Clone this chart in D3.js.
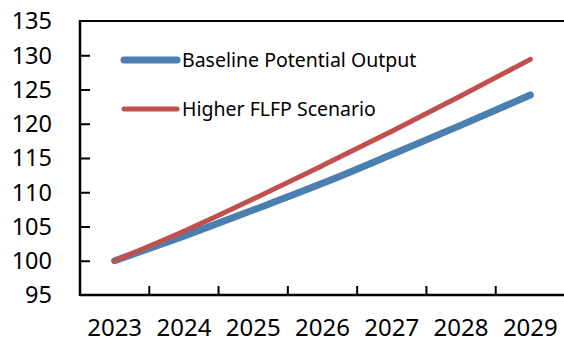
<!DOCTYPE html>
<html><head><meta charset="utf-8">
<script src="https://cdn.jsdelivr.net/npm/d3@7"></script>
<style>body{margin:0;background:#fff}svg{display:block}</style>
</head><body><svg id="c" width="564" height="344"></svg>
<script>
const years = ["2023","2024","2025","2026","2027","2028","2029"];
const baseline = [100, 103.6, 107.4, 111.3, 115.5, 119.8, 124.2];
const higher = [100, 104.3, 109.0, 113.9, 118.9, 124.1, 129.4];
const yTicks = [95,100,105,110,115,120,125,130,135];
const seriesNames = ["Baseline Potential Output", "Higher FLFP Scenario"];
const colors = ["#4a7fb0", "#c0504d"];
const widths = [7, 5];

(function () {
const svg = d3.select("#c");
const font = "'Noto Sans', 'Open Sans', sans-serif";
const mL = 80, mR = 565, mT = 21, mB = 295;
const x = d3.scaleBand().domain(years).range([mL, mR]);
const y = d3.scaleLinear().domain([95, 135]).range([mB, mT]);

svg.append("line").attr("x1", mL).attr("x2", 564).attr("y1", mT).attr("y2", mT)
  .attr("stroke", "#000").attr("stroke-width", 2);

const yAxis = svg.append("g").attr("transform", `translate(${mL},0)`)
  .call(d3.axisRight(y).tickValues(yTicks.slice(1, -1)).tickSize(10).tickFormat(""));
yAxis.select(".domain").remove();
yAxis.selectAll("line").attr("stroke", "#000").attr("stroke-width", 2);
svg.append("line").attr("x1", mL).attr("x2", mL).attr("y1", mT - 1).attr("y2", mB + 1)
  .attr("stroke", "#000").attr("stroke-width", 2.5);

svg.append("g").selectAll("text").data(yTicks).join("text")
  .attr("x", 52).attr("y", d => y(d)).attr("dy", "0.36em")
  .attr("text-anchor", "end").attr("font-family", font).attr("font-size", 23.5)
  .attr("fill", "#000").text(d => d);

svg.append("line").attr("x1", mL).attr("x2", 564).attr("y1", mB).attr("y2", mB)
  .attr("stroke", "#000").attr("stroke-width", 2.5);
svg.append("g").selectAll("line").data(years.slice(1)).join("line")
  .attr("x1", d => x(d)).attr("x2", d => x(d)).attr("y1", mB).attr("y2", mB - 9)
  .attr("stroke", "#000").attr("stroke-width", 2);
svg.append("g").selectAll("text").data(years).join("text")
  .attr("x", d => x(d) + x.bandwidth() / 2).attr("y", 327).attr("dy", "0.36em")
  .attr("text-anchor", "middle").attr("font-family", font).attr("font-size", 24)
  .attr("fill", "#000").text(d => d);

const line = d3.line().x((d, i) => x(years[i]) + x.bandwidth() / 2).y(d => y(d)).curve(d3.curveMonotoneX);
[baseline, higher].forEach((s, k) => {
  svg.append("path").datum(s).attr("d", line).attr("fill", "none")
    .attr("stroke", colors[k]).attr("stroke-width", widths[k]).attr("stroke-linecap", "round");
});
const leg = svg.append("g");
seriesNames.forEach((n, k) => {
  const ly = [60, 109][k];
  leg.append("line").attr("x1", 124).attr("x2", 177).attr("y1", ly).attr("y2", ly)
    .attr("stroke", colors[k]).attr("stroke-width", widths[k]).attr("stroke-linecap", "round");
  leg.append("text").attr("x", 182).attr("y", ly).attr("dy", "0.36em")
    .attr("font-family", font).attr("font-size", 19.5).attr("fill", "#000").text(n);
});
})();
</script></body></html>
